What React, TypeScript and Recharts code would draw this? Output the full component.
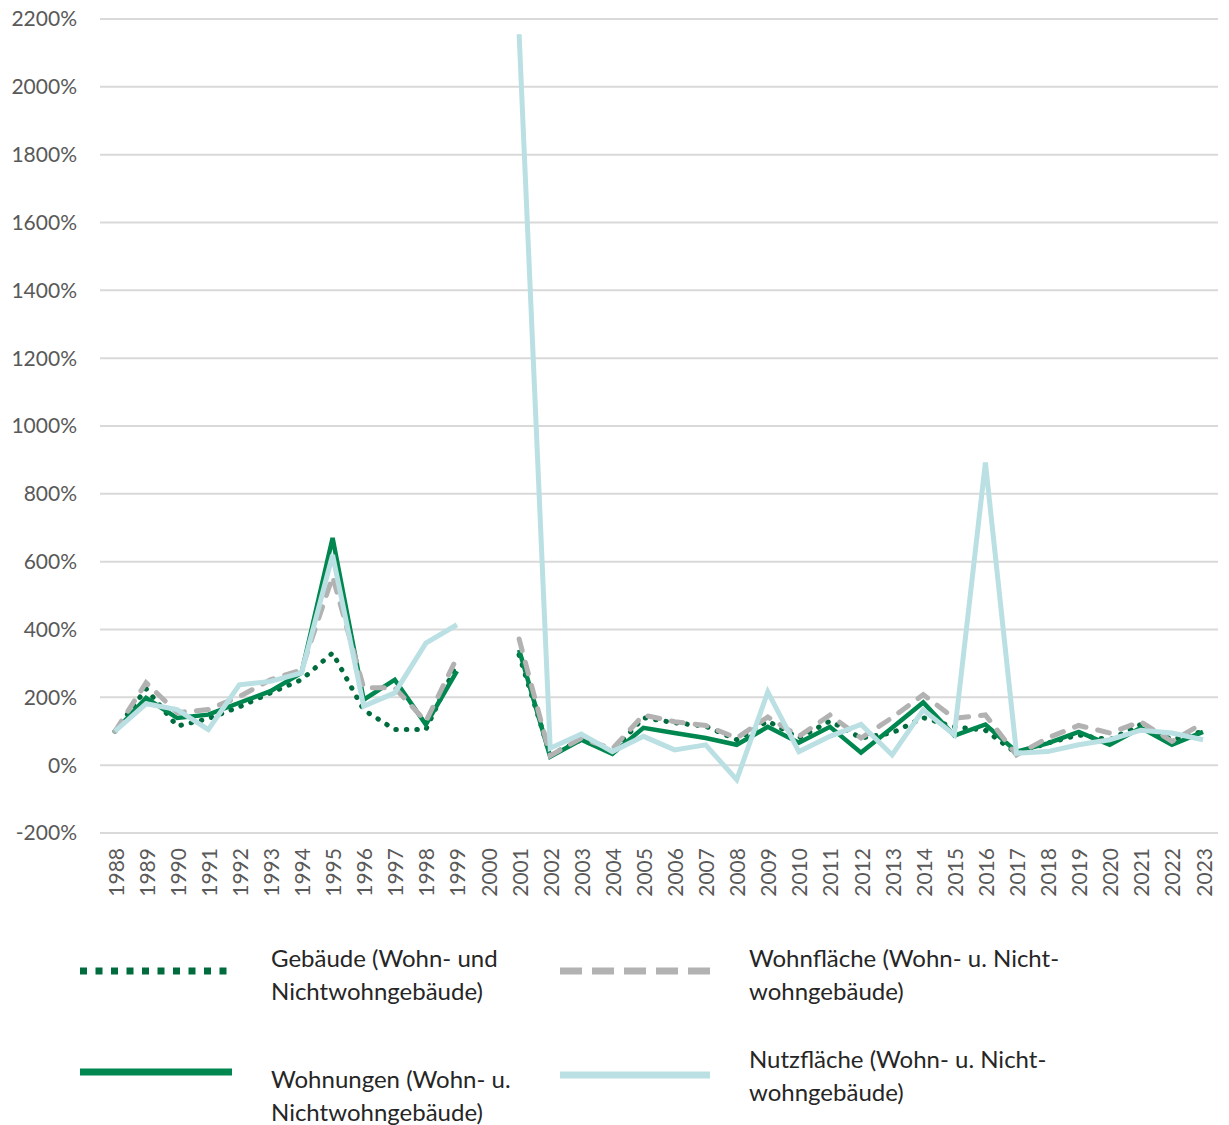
import { LineChart, Line, XAxis, YAxis, CartesianGrid } from 'recharts';

const years = [
  '1988', '1989', '1990', '1991', '1992', '1993', '1994', '1995', '1996', '1997', '1998', '1999',
  '2000', '2001', '2002', '2003', '2004', '2005', '2006', '2007', '2008', '2009', '2010', '2011',
  '2012', '2013', '2014', '2015', '2016', '2017', '2018', '2019', '2020', '2021', '2022', '2023',
];

const gebaeude = [
  100, 225, 115, 137, 172, 213, 252, 331, 163, 105, 105, 300,
  null, 325, 30, 75, 40, 140, 125, 115, 75, 130, 80, 130,
  80, 95, 140, 113, 103, 35, 65, 89, 75, 120, 75, 100,
];
const wohnungen = [
  100, 198, 139, 149, 184, 218, 272, 670, 193, 252, 120, 277,
  null, 340, 25, 75, 33, 110, 95, 80, 60, 113, 66, 113,
  37, 110, 185, 87, 120, 40, 64, 98, 60, 110, 60, 98,
];
const wohnflaeche = [
  100, 243, 155, 164, 202, 252, 281, 556, 228, 228, 129, 317,
  null, 372, 28, 80, 48, 148, 128, 117, 80, 142, 85, 148,
  80, 140, 208, 138, 148, 30, 80, 117, 95, 128, 70, 124,
];
const nutzflaeche = [
  100, 181, 164, 105, 237, 247, 272, 620, 174, 213, 360, 414,
  null, 2155, 50, 92, 40, 85, 45, 60, -43, 216, 40, 85,
  120, 30, 163, 89, 892, 35, 40, 60, 75, 103, 95, 75,
];

const yTicks = [-200, 0, 200, 400, 600, 800, 1000, 1200, 1400, 1600, 1800, 2000, 2200];

const data = years.map((year, i) => ({
  year,
  gebaeude: gebaeude[i],
  wohnungen: wohnungen[i],
  wohnflaeche: wohnflaeche[i],
  nutzflaeche: nutzflaeche[i],
}));

const DARK_GREEN = '#006B3C';
const GREEN = '#00874F';
const GREY = '#B2B2B2';
const LIGHT_BLUE = '#BAE0E3';
const FONT = 'Lato, "Open Sans", sans-serif';

function YearTick({ x, y, payload }: any) {
  return (
    <text
      x={x}
      y={y + 7}
      transform={`rotate(-90, ${x}, ${y + 7})`}
      textAnchor="end"
      dominantBaseline="central"
      fill="#595959"
      fontSize={21}
      fontFamily={FONT}
    >
      {payload.value}
    </text>
  );
}

const legendText = {
  position: 'absolute' as const,
  fontFamily: FONT,
  fontSize: 24,
  lineHeight: '33px',
  color: '#262626',
  whiteSpace: 'nowrap' as const,
};

export default function App() {
  return (
    <div style={{ position: 'absolute', left: 0, top: 0, width: 1229, height: 1125, background: '#fff' }}>
      <LineChart width={1229} height={910} data={data} margin={{ top: 19, right: 11, left: 0, bottom: 0 }}>
        <CartesianGrid stroke="#D9D9D9" strokeWidth={2} vertical={false} />
        <XAxis
          dataKey="year"
          interval={0}
          padding={{ left: 15, right: 15 }}
          axisLine={false}
          tickLine={false}
          height={77}
          tick={<YearTick />}
        />
        <YAxis
          domain={[-200, 2200]}
          ticks={yTicks}
          width={100}
          axisLine={false}
          tickLine={false}
          tickMargin={17}
          tickFormatter={(v) => `${v}%`}
          tick={{ fontSize: 21, fill: '#595959', fontFamily: FONT }}
        />
        <Line
          dataKey="gebaeude"
          stroke={DARK_GREEN}
          strokeWidth={5}
          strokeDasharray="0.5 10"
          strokeLinecap="round"
          dot={false}
          isAnimationActive={false}
        />
        <Line dataKey="wohnungen" stroke={GREEN} strokeWidth={4.5} dot={false} isAnimationActive={false} />
        <Line
          dataKey="wohnflaeche"
          stroke={GREY}
          strokeWidth={5}
          strokeDasharray="12 12"
          strokeLinecap="round"
          dot={false}
          isAnimationActive={false}
        />
        <Line dataKey="nutzflaeche" stroke={LIGHT_BLUE} strokeWidth={5} dot={false} isAnimationActive={false} />
      </LineChart>

      <svg width={1229} height={215} style={{ position: 'absolute', left: 0, top: 910 }}>
        <line x1={80} x2={232} y1={61} y2={61} stroke={DARK_GREEN} strokeWidth={7} strokeDasharray="7 8.5" />
        <line x1={560} x2={710} y1={61} y2={61} stroke={GREY} strokeWidth={7} strokeDasharray="22 10" />
        <line x1={80} x2={232} y1={162} y2={162} stroke={GREEN} strokeWidth={7} />
        <line x1={560} x2={710} y1={165} y2={165} stroke={LIGHT_BLUE} strokeWidth={7} />
      </svg>
      <div style={{ ...legendText, left: 271, top: 941 }}>
        Gebäude (Wohn- und
        <br />
        Nichtwohngebäude)
      </div>
      <div style={{ ...legendText, left: 749, top: 941 }}>
        Wohnfläche (Wohn- u. Nicht-
        <br />
        wohngebäude)
      </div>
      <div style={{ ...legendText, left: 271, top: 1062 }}>
        Wohnungen (Wohn- u.
        <br />
        Nichtwohngebäude)
      </div>
      <div style={{ ...legendText, left: 749, top: 1042 }}>
        Nutzfläche (Wohn- u. Nicht-
        <br />
        wohngebäude)
      </div>
    </div>
  );
}
